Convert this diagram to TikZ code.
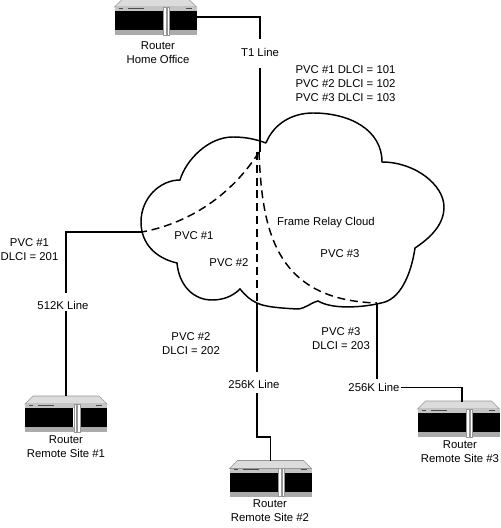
\documentclass[tikz,border=0pt]{standalone}
\usepackage{fontspec}
\setmainfont{Liberation Sans}
\usepackage{tikz}
\usetikzlibrary{positioning,calc}
\definecolor{casing}{RGB}{196,196,196}
\definecolor{casingdark}{RGB}{150,150,150}

\begin{document}
\begin{tikzpicture}[
  x=0.75pt, y=-0.75pt,
  lbl/.style={align=center, inner sep=1pt, font=\fontsize{8.5}{10.5}\selectfont},
  wire/.style={line width=1.1pt},
  pvc/.style={line width=1.1pt, dash pattern=on 6pt off 3.6pt},
  router/.pic={
    \draw[casingdark, fill=casing!60, line width=0.4pt] (-41,-10) -- (-33,-18) -- (33,-18) -- (41,-10) -- cycle;
    \fill[casing] (-41,-10) rectangle (41,-6);
    \fill[casingdark!80] (-41,13) rectangle (41,18);
    \fill[black] (-41,-6) rectangle (7,13);
    \fill[black] (14,-6) rectangle (41,13);
    \draw[casingdark, fill=white, line width=0.4pt] (8,-10) rectangle (10.5,18);
    \draw[casingdark, fill=white, line width=0.4pt] (11.5,-10) rectangle (14,18);
    \draw[black!70, line width=0.6pt] (-37,-9) -- (-33,-9) (-28,-9) -- (-12,-9) (30,-9) -- (36,-9);
    \node[inner sep=0pt, minimum width=61.5pt, minimum height=27pt] (-box) at (0,0) {};
  },
]
\useasboundingbox (0,0) rectangle (500,528);

\pic (home) at (155.5,17) {router};
\pic (siteone) at (66,414) {router};
\pic (sitetwo) at (270.5,478.5) {router};
\pic (sitethree) at (458.5,419) {router};

\node[lbl] (homelbl) at (158,52.5) {Router\\Home Office};
\node[lbl] (onelbl) at (66,447) {Router\\Remote Site \#1};
\node[lbl] (twolbl) at (270,511) {Router\\Remote Site \#2};
\node[lbl] (threelbl) at (460,452) {Router\\Remote Site \#3};

\draw[wire] (266,143) .. controls (274,123) and (293,113) .. (313,113)
  .. controls (350,113) and (382,130) .. (382,162)
  .. controls (415,162) and (444,185) .. (444,207)
  .. controls (444,225) and (430,238) .. (415,248)
  .. controls (411,275) and (400,300) .. (381,303)
  .. controls (370,306) and (335,311) .. (318,301)
  .. controls (310,303) and (305,309) .. (297,309)
  .. controls (280,308) and (265,307) .. (257,303)
  .. controls (250,300) and (245,295) .. (240,289)
  .. controls (232,297) and (222,300) .. (212,300)
  .. controls (193,300) and (179,285) .. (177,263)
  .. controls (155,258) and (141,243) .. (141,222)
  .. controls (141,198) and (160,180) .. (180,180)
  .. controls (186,160) and (208,137) .. (233,137)
  .. controls (245,137) and (255,139) .. (266,143);

\coordinate (hub) at (259,152);
\coordinate (cloudleft) at (142,232);
\coordinate (cloudtwo) at (257,303);
\coordinate (cloudthree) at (377,303);

\node[lbl] (tone) at (260,52) {T1 Line};
\node[lbl] (lineone) at (63,305) {512K Line};
\node[lbl] (linetwo) at (254,384) {256K Line};
\node[lbl] (linethree) at (374,387.5) {256K Line};

\coordinate (toneup) at (260,39);
\coordinate (tonelow) at (260,68);
\coordinate (oneup) at (66,293);
\coordinate (onelow) at (66,311);
\coordinate (twoup) at (257,372);
\coordinate (twolow) at (257,393);
\coordinate (twobend) at (257,437);
\coordinate (threeup) at (377,379);
\coordinate (threein) at (462,402);

\draw[wire] (home-box.east) -| (toneup);
\draw[wire] (tonelow) -- (tonelow |- hub);
\draw[wire] (cloudleft) -| (oneup);
\draw[wire] (onelow) -- (siteone-box.north |- 0,396);
\draw[wire] (cloudtwo) -- (twoup);
\draw[wire] (twolow) -- (twobend) -| (sitetwo-box.north |- 0,461);
\draw[wire] (cloudthree) -- (threeup);
\draw[wire] (linethree.east) -| (threein);

\draw[pvc] (hub) .. controls (235,190) and (195,222) .. (cloudleft);
\draw[pvc] (hub -| cloudtwo) -- (cloudtwo);
\draw[pvc] (hub) .. controls (262,230) and (275,300) .. (cloudthree);

\node[lbl, align=left] (dlcihome) at (345.5,84) {PVC \#1 DLCI = 101\\PVC \#2 DLCI = 102\\PVC \#3 DLCI = 103};
\node[lbl] (dlcione) at (29.5,250) {PVC \#1\\DLCI = 201};
\node[lbl] (dlcitwo) at (191,344) {PVC \#2\\DLCI = 202};
\node[lbl] (dlcithree) at (341,339) {PVC \#3\\DLCI = 203};
\node[lbl] (cloudlbl) at (326,222.5) {Frame Relay Cloud};
\node[lbl] (pvcone) at (194,236) {PVC \#1};
\node[lbl] (pvctwo) at (229,263) {PVC \#2};
\node[lbl] (pvcthree) at (340,254) {PVC \#3};
\end{tikzpicture}
\end{document}
